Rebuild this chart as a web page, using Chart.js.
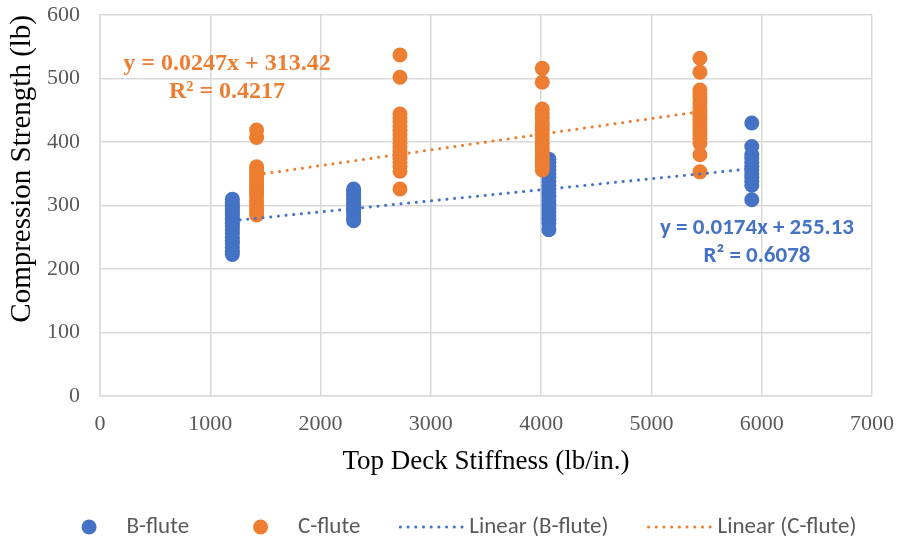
<!DOCTYPE html>
<html>
<head>
<meta charset="utf-8">
<script src="https://cdn.jsdelivr.net/npm/chart.js@4.4.1/dist/chart.umd.min.js"></script>
<style>
  html, body { margin: 0; padding: 0; background: #ffffff; }
  #wrap { width: 902px; height: 546px; }
</style>
</head>
<body>
<div id="wrap"><canvas id="chart" width="902" height="546"></canvas></div>
<script>
// Top deck stiffness (lb/in.) of each B-flute and C-flute group
const bFluteStiffness = [1200, 2300, 4070, 5910];
const cFluteStiffness = [1420, 2720, 4010, 5440];

// Compression strength (lb) measured for each group
const bFluteStrength = [
  [310, 305, 300, 296, 292, 288, 284, 280, 276, 272, 268, 262, 256, 250, 245, 240, 234, 228, 223],
  [326, 322, 318, 314, 310, 306, 302, 298, 294, 290, 285, 280, 276],
  [373, 368, 362, 356, 350, 344, 338, 332, 326, 320, 314, 308, 302, 296, 290, 284, 278, 272, 262],
  [430, 393, 380, 374, 368, 362, 356, 350, 344, 338, 332, 309]
];
const cFluteStrength = [
  [419, 407, 361, 356, 350, 345, 340, 335, 330, 325, 320, 315, 308, 302, 296, 290, 285],
  [537, 502, 444, 438, 432, 425, 418, 412, 405, 398, 392, 386, 380, 374, 368, 362, 354, 326],
  [516, 494, 452, 445, 438, 430, 424, 418, 412, 405, 398, 392, 386, 380, 374, 368, 362, 356],
  [532, 510, 482, 476, 470, 462, 455, 448, 442, 436, 430, 424, 418, 412, 405, 398, 380, 353]
];

// Linear fits: slope, intercept, R²
const bFluteFit = [0.0174, 255.13, 0.6078];
const cFluteFit = [0.0247, 313.42, 0.4217];

const seriesLabels = ['B-flute', 'C-flute', 'Linear (B-flute)', 'Linear (C-flute)'];
const xTicks = [0, 1000, 2000, 3000, 4000, 5000, 6000, 7000];
const yTicks = [0, 100, 200, 300, 400, 500, 600];

const BLUE = '#4472C4';
const ORANGE = '#ED7D31';
const SERIF = '"Liberation Serif", "Times New Roman", serif';
const SANS = 'Carlito, Calibri, Lato, "Open Sans", sans-serif';

function toPoints(xs, groups) {
  const pts = [];
  xs.forEach((x, i) => groups[i].forEach(y => pts.push({ x: x, y: y })));
  return pts;
}
function fitLine(xs, fit) {
  const lo = Math.min(...xs), hi = Math.max(...xs);
  return [{ x: lo, y: fit[0] * lo + fit[1] }, { x: hi, y: fit[0] * hi + fit[1] }];
}
function fitText(fit) {
  return ['y = ' + fit[0] + 'x + ' + fit[1].toFixed(2), 'R\u00b2 = ' + fit[2]];
}

// Trendline equations written next to each fit
const equationLabels = {
  id: 'equationLabels',
  afterDatasetsDraw(chart) {
    const ctx = chart.ctx;
    const items = [
      { lines: fitText(cFluteFit), color: ORANGE, font: 'bold 24px ' + SERIF, x: 227, y: [64, 92] },
      { lines: fitText(bFluteFit), color: BLUE, font: 'bold 23px ' + SANS, x: 757, y: [228, 256] }
    ];
    ctx.save();
    ctx.textAlign = 'center';
    ctx.textBaseline = 'middle';
    items.forEach(it => {
      ctx.font = it.font;
      ctx.fillStyle = it.color;
      it.lines.forEach((t, i) => ctx.fillText(t, it.x, it.y[i]));
    });
    ctx.restore();
  }
};

// Legend row along the bottom: marker or dotted line sample, then the label
const bottomLegend = {
  id: 'bottomLegend',
  afterDraw(chart) {
    const ctx = chart.ctx;
    const sets = chart.data.datasets;
    const boxW = 67, textGap = 4, itemGap = 38, cy = 527;
    ctx.save();
    ctx.font = '23px ' + SANS;
    const widths = sets.map(d => boxW + textGap + ctx.measureText(d.label).width);
    const total = widths.reduce((a, b) => a + b, 0) + itemGap * (sets.length - 1);
    let x = 456 - total / 2;
    sets.forEach((d, i) => {
      if (d.showLine) {
        ctx.strokeStyle = d.borderColor;
        ctx.lineWidth = d.borderWidth;
        ctx.lineCap = 'round';
        ctx.setLineDash(d.borderDash);
        ctx.beginPath();
        ctx.moveTo(x + 2, cy);
        ctx.lineTo(x + boxW - 2, cy);
        ctx.stroke();
        ctx.setLineDash([]);
      } else {
        ctx.fillStyle = d.backgroundColor;
        ctx.beginPath();
        ctx.arc(x + boxW / 2, cy, d.pointRadius, 0, Math.PI * 2);
        ctx.fill();
      }
      ctx.fillStyle = '#595959';
      ctx.textAlign = 'left';
      ctx.textBaseline = 'middle';
      ctx.fillText(d.label, x + boxW + textGap, cy);
      x += widths[i] + itemGap;
    });
    ctx.restore();
  }
};

const dottedLine = (color) => ({
  showLine: true,
  borderColor: color,
  backgroundColor: color,
  borderWidth: 3,
  borderDash: [0.1, 7.6],
  borderCapStyle: 'round',
  pointRadius: 0,
  pointHoverRadius: 0,
  fill: false
});

new Chart(document.getElementById('chart'), {
  type: 'scatter',
  data: {
    datasets: [
      { label: seriesLabels[0], data: toPoints(bFluteStiffness, bFluteStrength),
        backgroundColor: BLUE, borderColor: BLUE, borderWidth: 0, pointRadius: 7.5, order: 4 },
      { label: seriesLabels[1], data: toPoints(cFluteStiffness, cFluteStrength),
        backgroundColor: ORANGE, borderColor: ORANGE, borderWidth: 0, pointRadius: 7.5, order: 3 },
      Object.assign({ label: seriesLabels[2], data: fitLine(bFluteStiffness, bFluteFit), order: 2 }, dottedLine(BLUE)),
      Object.assign({ label: seriesLabels[3], data: fitLine(cFluteStiffness, cFluteFit), order: 1 }, dottedLine(ORANGE))
    ]
  },
  options: {
    responsive: false,
    animation: false,
    layout: { padding: { left: 0, right: 30, top: 15, bottom: 66 } },
    plugins: {
      legend: { display: false },
      tooltip: { enabled: false }
    },
    scales: {
      x: {
        type: 'linear',
        min: xTicks[0],
        max: xTicks[xTicks.length - 1],
        afterBuildTicks: s => { s.ticks = xTicks.map(v => ({ value: v })); },
        afterFit: s => { s.height = 84; s.paddingLeft = 0; s.paddingRight = 0; },
        grid: { color: '#d9d9d9', lineWidth: 1.5, drawTicks: false },
        border: { color: '#d9d9d9', width: 1.5 },
        ticks: { padding: 15, color: '#595959', font: { family: SERIF, size: 22 },
                 callback: v => String(v) },
        title: { display: true, text: 'Top Deck Stiffness (lb/in.)', color: '#000000',
                 font: { family: SERIF, size: 27 }, padding: { top: 0, bottom: 2 } }
      },
      y: {
        type: 'linear',
        min: yTicks[0],
        max: yTicks[yTicks.length - 1],
        afterBuildTicks: s => { s.ticks = yTicks.map(v => ({ value: v })); },
        afterFit: s => { s.width = 100; s.paddingTop = 0; s.paddingBottom = 0; },
        grid: { color: '#d9d9d9', lineWidth: 1.5, drawTicks: false },
        border: { color: '#d9d9d9', width: 1.5 },
        ticks: { padding: 20, color: '#595959', font: { family: SERIF, size: 22 },
                 callback: v => String(v) },
        title: { display: true, text: 'Compression Strength (lb)', color: '#000000', align: 'end',
                 font: { family: SERIF, size: 29 }, padding: { top: 5, bottom: 0 } }
      }
    }
  },
  plugins: [equationLabels, bottomLegend]
});
</script>
</body>
</html>
